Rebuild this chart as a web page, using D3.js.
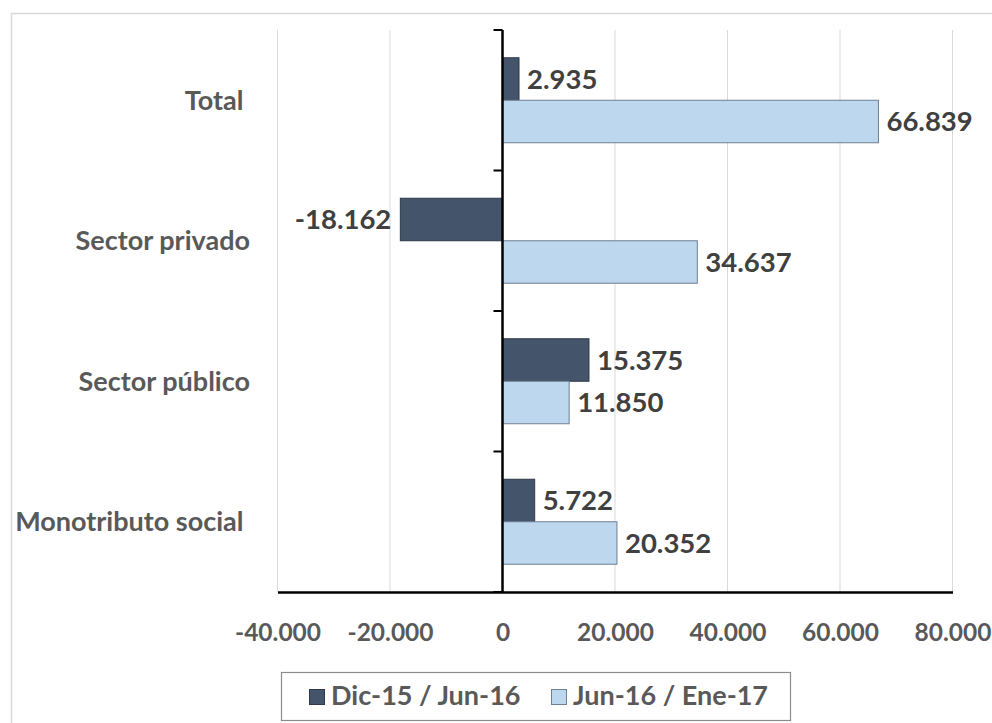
<!DOCTYPE html>
<html>
<head>
    <meta charset="utf-8" />
    <title>Variación de trabajadores registrados</title>
    <style>
        html, body {
            margin: 0;
            padding: 0;
            background-color: #fff;
            font-family: 'Lato', 'Open Sans', sans-serif;
        }
        svg text { white-space: pre; }
    </style>
</head>
<body>
    <div class="canvas"></div>
    <script src="https://d3js.org/d3.v7.min.js"></script>
    <script>
        // datos
        var categories = ["Total ", "Sector privado", "Sector público", "Monotributo social "];
        var seriesNames = ["Dic-15 / Jun-16", "Jun-16 / Ene-17"];
        var dic15jun16 = [2935, -18162, 15375, 5722];
        var jun16ene17 = [66839, 34637, 11850, 20352];
        var xTicks = [-40000, -20000, 0, 20000, 40000, 60000, 80000];

        var width = 992, height = 723;
        var colors = ["#44546a", "#bdd7ee"];
        var strokes = ["#2e3a4a", "#6f7f91"];

        var locale = d3.formatLocale({decimal: ",", thousands: ".", grouping: [3], currency: ["$", ""], minus: "-"});
        var fmt = locale.format(",d");

        var svg = d3.select(".canvas")
                    .append("svg")
                    .attr("width", width)
                    .attr("height", height);

        // borde exterior del grafico
        svg.append("rect")
            .attr("x", 11.5).attr("y", 13.5)
            .attr("width", 1000).attr("height", 800)
            .attr("fill", "none")
            .attr("stroke", "#d9d9d9")
            .attr("stroke-width", 1.5);

        var x = d3.scaleLinear()
                  .domain([-40000, 80000])
                  .range([277.5, 952.5]);

        var y0 = d3.scaleBand()
                   .domain(categories)
                   .range([30, 592])
                   .paddingInner(0.395)
                   .paddingOuter(0.1975);

        var y1 = d3.scaleBand()
                   .domain(seriesNames)
                   .range([0, y0.bandwidth()]);

        // grilla vertical
        svg.append("g")
            .selectAll("line")
            .data(xTicks)
            .join("line")
            .attr("x1", function(d){ return x(d); })
            .attr("x2", function(d){ return x(d); })
            .attr("y1", 30)
            .attr("y2", 592)
            .attr("stroke", "#d9d9d9")
            .attr("stroke-width", 1);

        var rows = categories.map(function(c, i) {
            return {cat: c, values: [dic15jun16[i], jun16ene17[i]]};
        });

        var groups = svg.append("g")
            .selectAll("g")
            .data(rows)
            .join("g")
            .attr("transform", function(d){ return "translate(0," + y0(d.cat) + ")"; });

        groups.selectAll("rect")
            .data(function(d){ return d.values.map(function(v, j){ return {v: v, s: seriesNames[j], j: j}; }); })
            .join("rect")
            .attr("x", function(d){ return x(Math.min(0, d.v)); })
            .attr("y", function(d){ return y1(d.s); })
            .attr("width", function(d){ return Math.abs(x(d.v) - x(0)); })
            .attr("height", y1.bandwidth())
            .attr("fill", function(d){ return colors[d.j]; })
            .attr("stroke", function(d){ return strokes[d.j]; })
            .attr("stroke-width", 1);

        groups.selectAll("text")
            .data(function(d){ return d.values.map(function(v, j){ return {v: v, s: seriesNames[j], j: j}; }); })
            .join("text")
            .attr("x", function(d){ return d.v < 0 ? x(d.v) - 9 : x(d.v) + 8; })
            .attr("y", function(d){ return y1(d.s) + y1.bandwidth() / 2; })
            .attr("dy", "0.36em")
            .attr("text-anchor", function(d){ return d.v < 0 ? "end" : "start"; })
            .attr("fill", "#404040")
            .attr("font-weight", "bold")
            .attr("font-size", "27.5px")
            .text(function(d){ return fmt(d.v); });

        // eje x
        var xAxis = svg.append("g")
            .attr("transform", "translate(0,592)")
            .call(d3.axisBottom(x).tickValues(xTicks).tickSize(0).tickFormat(fmt));
        xAxis.select(".domain").attr("stroke", "#000").attr("stroke-width", 2.5);
        xAxis.selectAll("text")
            .attr("y", 49).attr("dy", 0)
            .attr("fill", "#595959")
            .attr("font-family", "Lato, 'Open Sans', sans-serif")
            .attr("font-weight", "bold")
            .attr("font-size", "24.5px");

        // eje vertical en cero con marcas entre categorias
        var bounds = d3.range(categories.length + 1).map(function(i){ return y0.range()[0] + i * y0.step(); });
        var yAxis = svg.append("g");
        yAxis.append("line")
            .attr("x1", x(0)).attr("x2", x(0))
            .attr("y1", 30).attr("y2", 593)
            .attr("stroke", "#000").attr("stroke-width", 2.5);
        yAxis.selectAll("line.tk")
            .data(bounds)
            .join("line")
            .attr("class", "tk")
            .attr("x1", x(0) - 9).attr("x2", x(0))
            .attr("y1", function(d){ return d; })
            .attr("y2", function(d){ return d; })
            .attr("stroke", "#000").attr("stroke-width", 2);

        // etiquetas de categorias
        svg.append("g")
            .selectAll("text")
            .data(categories)
            .join("text")
            .attr("x", 250)
            .attr("y", function(d){ return y0(d) + y0.bandwidth() / 2; })
            .attr("dy", "0.36em")
            .attr("text-anchor", "end")
            .attr("fill", "#595959")
            .attr("font-weight", "bold")
            .attr("font-size", "27px")
            .text(function(d){ return d; });

        // leyenda
        var legend = svg.append("g");
        legend.append("rect")
            .attr("x", 281.5).attr("y", 672.5)
            .attr("width", 509).attr("height", 48)
            .attr("fill", "#fff")
            .attr("stroke", "#8c8c8c")
            .attr("stroke-width", 1.2);
        var legX = [309, 551];
        seriesNames.forEach(function(s, i) {
            legend.append("rect")
                .attr("x", legX[i] + 0.5).attr("y", 689.5)
                .attr("width", 15).attr("height", 15)
                .attr("fill", colors[i])
                .attr("stroke", strokes[i]);
            legend.append("text")
                .attr("x", legX[i] + 22)
                .attr("y", 705)
                .attr("fill", "#595959")
                .attr("font-weight", "bold")
                .attr("font-size", "27px")
                .text(s);
        });
    </script>
</body>
</html>
